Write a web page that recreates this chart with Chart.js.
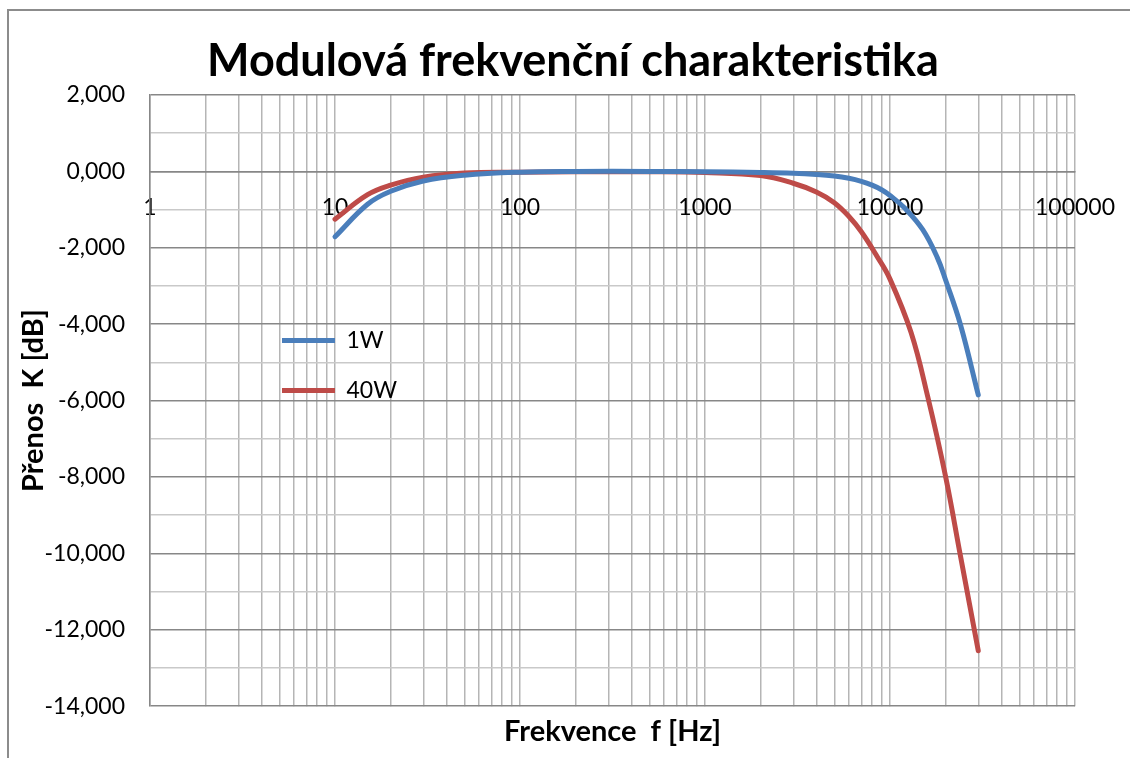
<!DOCTYPE html>
<html>
<head>
<meta charset="utf-8">
<script src="https://cdn.jsdelivr.net/npm/chart.js@4.4.0/dist/chart.umd.min.js"></script>
<style>
  html, body { margin: 0; padding: 0; background: #fff; overflow: hidden; }
  #frame { position: absolute; left: 7px; top: 9px; width: 1200px; height: 800px;
           border-left: 2px solid #8c8c8c; border-top: 2px solid #8c8c8c; }
  #chart { position: absolute; left: 0; top: 0; }
</style>
</head>
<body>
<div id="frame"></div>
<canvas id="chart" width="1130" height="758"></canvas>
<script>
// frequency response
const freq1W = [10, 15, 20, 30, 50, 100, 200, 500, 1000, 2000, 3000, 4000, 5000, 6000, 7000, 8000, 9000, 10000, 12000, 15000, 18000, 20000, 24000, 30000];
const gain1W = [-1.71, -0.86, -0.52, -0.25, -0.10, -0.02, 0, 0, -0.01, -0.03, -0.05, -0.08, -0.12, -0.18, -0.26, -0.36, -0.48, -0.63, -0.96, -1.52, -2.25, -2.85, -4.0, -5.85];

const freq40W = [10, 15, 20, 30, 50, 100, 200, 500, 1000, 2000, 3000, 4000, 5000, 6000, 7000, 8500, 10000, 13000, 16000, 20000, 24000, 30000];
const gain40W = [-1.25, -0.61, -0.36, -0.15, -0.04, -0.02, -0.01, -0.01, -0.03, -0.11, -0.31, -0.54, -0.82, -1.18, -1.58, -2.22, -2.82, -4.22, -5.9, -8.0, -10.05, -12.55];

const seriesNames = ['1W', '40W'];
const seriesColors = ['#4a7ebb', '#be4b48'];

const titleText = 'Modulová frekvenční charakteristika';
const xTitle = 'Frekvence  f [Hz]';
const yTitle = 'Přenos  K [dB]';

function pairs(xs, ys) {
    return xs.map((x, i) => ({x: x, y: ys[i]}));
}

// move the legend into the plot, where Excel had it
const legendSpot = {
    id: 'legendSpot',
    afterUpdate(chart) {
        const lg = chart.legend;
        if (!lg) return;
        lg.left = 255; lg.top = 302;
        lg.width = 300; lg.height = 150;
        lg.right = lg.left + lg.width; lg.bottom = lg.top + lg.height;
        lg.adjustHitBoxes();
    }
};

const font = 'Lato';

new Chart(document.getElementById('chart').getContext('2d'), {
    type: 'line',
    data: {
        datasets: [{
            label: seriesNames[0],
            data: pairs(freq1W, gain1W),
            borderColor: seriesColors[0],
            backgroundColor: seriesColors[0],
            borderWidth: 5,
            borderCapStyle: 'round',
            pointRadius: 0,
            tension: 0.4
        }, {
            label: seriesNames[1],
            data: pairs(freq40W, gain40W),
            borderColor: seriesColors[1],
            backgroundColor: seriesColors[1],
            borderWidth: 5,
            borderCapStyle: 'round',
            pointRadius: 0,
            tension: 0.4
        }]
    },
    options: {
        responsive: false,
        animation: false,
        devicePixelRatio: 1,
        layout: { padding: { left: 16, right: 0, top: 0, bottom: 0 } },
        scales: {
            x: {
                type: 'logarithmic',
                position: { y: 0 },
                min: 1,
                max: 100000,
                afterBuildTicks: function(scale) {
                    const t = [];
                    for (let e = 0; e < 5; e++) {
                        for (let m = 1; m < 10; m++) t.push({value: m * Math.pow(10, e)});
                    }
                    t.push({value: 100000});
                    scale.ticks = t;
                },
                afterFit: function(scale) {
                    scale.paddingLeft = 0;
                    scale.paddingRight = 55;
                },
                ticks: {
                    autoSkip: false,
                    maxRotation: 0,
                    padding: 22,
                    color: '#000',
                    font: { family: font, size: 23 },
                    callback: function(value) {
                        const l = Math.log10(value);
                        return Math.abs(l - Math.round(l)) < 1e-9 ? String(Math.round(value)) : '';
                    }
                },
                grid: { color: '#b5b5b5', lineWidth: 1.5, drawTicks: false },
                border: { color: '#878787', width: 1.5 }
            },
            y: {
                min: -14,
                max: 2,
                afterFit: function(scale) { scale.width = 134; },
                ticks: {
                    stepSize: 1,
                    autoSkip: false,
                    padding: 25,
                    color: '#000',
                    font: { family: font, size: 23 },
                    callback: function(value) {
                        return value % 2 === 0 ? value.toFixed(3).replace('.', ',') : '';
                    }
                },
                grid: {
                    drawTicks: false,
                    lineWidth: 1.5,
                    color: function(ctx) {
                        return ctx.tick && ctx.tick.value % 2 === 0 ? '#878787' : '#c9c9c9';
                    }
                },
                border: { color: '#878787', width: 1.5 },
                title: {
                    display: true,
                    text: yTitle,
                    color: '#000',
                    padding: { top: 0, bottom: 0 },
                    font: { family: font, size: 29, weight: 'bold' }
                }
            }
        },
        plugins: {
            title: {
                display: true,
                text: titleText,
                color: '#000',
                padding: { top: 34, bottom: 7 },
                font: { family: font, size: 45, weight: 'bold' }
            },
            subtitle: {
                display: true,
                position: 'bottom',
                fullSize: false,
                text: xTitle,
                color: '#000',
                padding: { top: 8, bottom: 9 },
                font: { family: font, size: 29, weight: 'bold' }
            },
            legend: {
                position: 'chartArea',
                align: 'start',
                labels: {
                    usePointStyle: true,
                    pointStyle: 'line',
                    pointStyleWidth: 53,
                    padding: 27,
                    color: '#000',
                    font: { family: font, size: 23 }
                }
            },
            tooltip: { enabled: false }
        }
    },
    plugins: [legendSpot]
});
</script>
</body>
</html>
